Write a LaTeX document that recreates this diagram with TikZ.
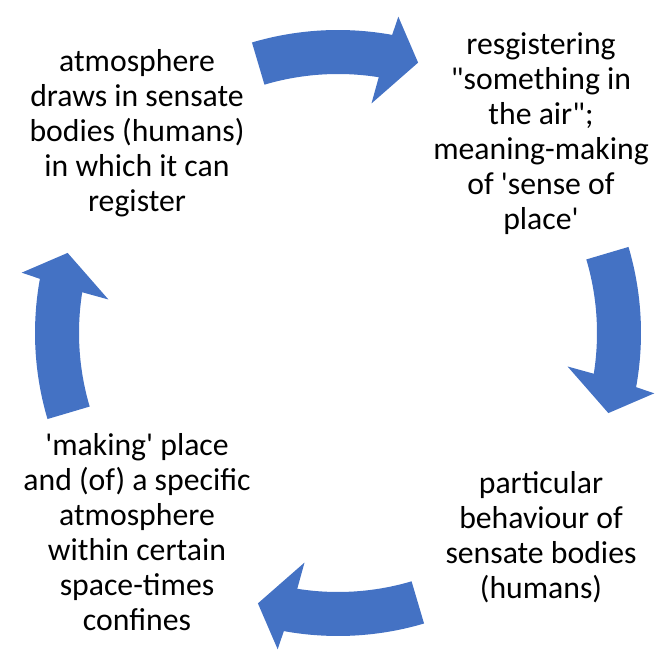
\documentclass[tikz,border=0pt]{standalone}
\usepackage{fontspec}
\setmainfont{Carlito}[Ligatures=TeXOff]
\definecolor{arrowblue}{HTML}{4472C4}
\tikzset{
  lbl/.style={align=center, inner sep=0pt, text=black, font=\fontsize{23.8pt}{26.25pt}\selectfont},
  cyclearrow/.style={fill=arrowblue, draw=none}
}
\newcommand{\cycarrow}[1]{%
  \fill[cyclearrow] (#1+16.5:303) arc[start angle=#1+16.5, end angle=#1-10.3, radius=303]
    -- (#1-10.8:322) -- (#1-16.5:282) -- (#1-8.3:232) -- (#1-9.05:259)
    arc[start angle=#1-9.05, end angle=#1+16.5, radius=259] -- cycle;}
\begin{document}
\begin{tikzpicture}[x=0.75pt, y=0.75pt]
\useasboundingbox (0,0) rectangle (654,660);
\coordinate (c) at (338,327);
\begin{scope}[shift={(c)}]
  \cycarrow{90}
  \cycarrow{0}
  \cycarrow{-90}
  \cycarrow{180}
\end{scope}
\node[lbl] (tl) at (137,527) {atmosphere\\draws in sensate\\bodies (humans)\\in which it can\\register};
\node[lbl] (tr) at (541,526) {resgistering\\"something in\\the air";\\meaning-making\\of 'sense of\\place'};
\node[lbl] (br) at (541,123) {particular\\behaviour of\\sensate bodies\\(humans)};
\node[lbl] (bl) at (137,128) {'making' place\\and (of) a specific\\atmosphere\\within certain\\space-times\\confines};
\end{tikzpicture}
\end{document}
